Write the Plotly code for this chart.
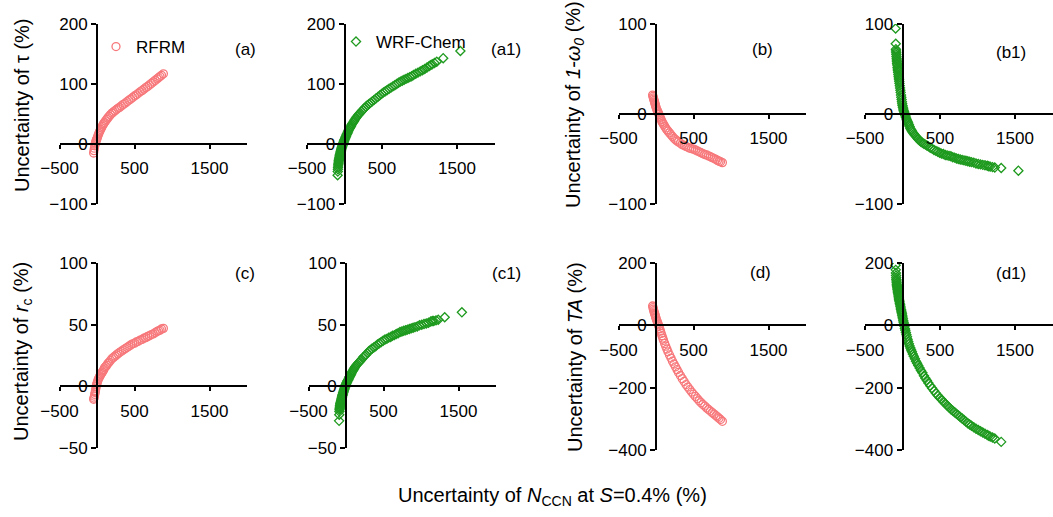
import plotly.graph_objects as go

# ---------------- data ----------------
rfrm_nccn = [-45, -40, -35, -30, -25, -20, -15, -10, -5, 0,
             8, 16, 24, 32, 40, 50, 60, 70, 80, 90,
             100, 115, 130, 145, 160, 180, 200, 220, 240, 260,
             280, 300, 325, 350, 375, 400, 425, 450, 475, 500,
             525, 550, 575, 600, 625, 650, 675, 700, 725, 750,
             775, 800, 820, 840, 860, 885]
rfrm_tau = [-15, -11, -7, -3, 0, 2, 4, 6, 7.5, 9,
            12, 15, 17.5, 20, 22, 24.5, 27, 29.5, 32, 34,
            36, 38.5, 41, 43.5, 46, 49, 51.5, 53.5, 55.5, 57.5,
            59.5, 61, 63.5, 66, 68, 70.5, 73, 75, 77.5, 80,
            82, 84.5, 87, 89, 91.5, 94, 96, 98.5, 101, 103.5,
            106, 108.5, 110.5, 112.5, 114.5, 117]
rfrm_omega = [21, 19.5, 18, 16.5, 15, 13.5, 12, 10.5, 9, 7.5,
              5.5, 4, 2.5, 1, -0.5, -2.5, -4.5, -6.5, -8.5, -10,
              -11.5, -13.5, -15.5, -17.5, -19, -21, -23, -25, -27, -28.5,
              -30, -31, -32.5, -34, -35, -36, -37, -38, -38.5, -39,
              -40, -41, -42, -43, -44, -45, -45.5, -46.5, -47.5, -48.5,
              -49.5, -50.5, -51.5, -52.5, -53, -54]
rfrm_rc = [-10.5, -9.5, -8, -6.5, -5, -3.5, -1.5, 0, 1.5, 2.5,
           4, 5.5, 6.5, 7.5, 8.5, 9.5, 10.5, 11.5, 12.5, 13.5,
           15, 16, 17, 18.5, 19.5, 21, 22.5, 23.5, 24.5, 25.5,
           26.5, 27.5, 28.5, 29.5, 30.5, 31.5, 32.5, 33.5, 34.5, 35,
           36, 36.5, 37.5, 38, 39, 39.5, 40.5, 41, 42, 42.5,
           43.5, 44.5, 45, 45.5, 46.5, 47]
rfrm_ta = [62, 57, 52, 47.5, 43, 39, 35.5, 31.5, 27, 23,
           17, 12, 7, 1.5, -4, -11, -18.5, -26, -33.5, -41,
           -48, -58, -67, -76, -85, -95, -105, -115, -124, -133,
           -142, -151, -161, -171, -180, -190, -198, -206, -214, -221,
           -228, -235, -242, -248, -254, -259, -265, -270, -275, -280,
           -285, -290, -294, -298, -302, -308]

wrf_nccn = [-92, -90, -88, -86, -84, -82, -80, -78, -76, -74,
            -72, -70, -67, -64, -61, -58, -55, -52, -49, -46,
            -43, -40, -36, -32, -28, -24, -20, -16, -12, -8,
            -4, 0, 5, 10, 15, 20, 26, 32, 38, 45,
            52, 60, 68, 76, 85, 95, 105, 115, 125, 137,
            150, 165, 180, 195, 210, 228, 246, 265, 285, 305,
            325, 345, 370, 395, 420, 445, 470, 495, 520, 545,
            570, 595, 620, 645, 670, 695, 720, 745, 770, 795,
            820, 845, 870, 895, 920, 950, 980, 1010, 1040, 1070,
            1100, 1130, 1150, 1170, 1200, 1230, 1316, 1545]
wrf_tau = [-52, -46, -42, -39, -36.5, -34, -32, -30, -28, -26.5,
           -25, -23.5, -21.5, -19.5, -18, -16.5, -15, -13.5, -12, -10.5,
           -9, -7.5, -6, -4.5, -3, -1.5, 0, 1.5, 3, 4.5,
           6, 7, 8.5, 10, 11.5, 13, 15, 16.5, 18, 20,
           22, 24, 26, 27.5, 29.5, 32, 34, 36, 38, 40.5,
           43, 45.5, 48, 50, 52, 54.5, 57, 59.5, 62, 64.5,
           66.5, 68.5, 71, 73.5, 76, 78.5, 81, 83.5, 86, 88,
           90, 92, 94, 96, 98, 100, 102, 104, 105.5, 107,
           108.5, 110, 111.5, 113, 115, 117, 119, 121, 123, 125,
           127.5, 130, 131.5, 133, 135, 137, 143, 155]
wrf_omega = [95, 78, 72, 70, 68, 66, 64, 62, 60, 58,
             56, 54.5, 52, 50, 48, 46, 44, 42, 40, 38,
             36, 34, 31.5, 29, 26.5, 24, 21, 18.5, 16, 13.5,
             11.5, 9.5, 7.5, 5.5, 4, 2.5, 1, -0.5, -2, -3.5,
             -5.5, -7, -8.5, -10, -12, -14, -16, -17.5, -19, -20.5,
             -22, -23.5, -25, -26.5, -28, -29.5, -31, -32, -33, -34,
             -35, -36, -37.5, -38.5, -40, -41, -42, -43, -44, -44.5,
             -45.5, -46, -46.5, -47, -48, -48.5, -49.5, -50, -50.5, -51,
             -51.5, -52, -52.5, -53, -53.5, -54, -55, -55.5, -56, -56.5,
             -57, -57.5, -58, -58.5, -59, -59.5, -60, -63]
wrf_rc = [-28, -23, -20.5, -19, -18, -17, -16, -15.5, -14.5, -14,
          -13.5, -13, -12, -11.5, -10.5, -10, -9, -8.5, -7.5, -7,
          -6.5, -5.5, -5, -4, -3.5, -2.5, -2, -1, -0.5, 0.5,
          1, 1.5, 2.5, 3, 3.5, 4.5, 5, 5.5, 6.5, 7.5,
          8, 9, 10, 11, 12, 13, 14, 15, 16, 17,
          18, 19, 20, 21, 22, 23.5, 24.5, 25.5, 27, 28.5,
          29.5, 30.5, 31.5, 32.5, 34, 35, 36, 37, 38, 38.5,
          39.5, 40, 41, 41.5, 42.5, 43, 44, 44.5, 45, 45.5,
          46, 46.5, 47, 47.5, 48, 48.5, 49.5, 50, 50.5, 51,
          51.5, 52.5, 53, 53, 53.5, 54, 56, 60]
wrf_ta = [193, 178, 168, 160, 153, 147, 142, 137, 132, 128,
          124, 120, 115, 110, 106, 101, 97, 92, 88, 84,
          80, 76, 71, 66, 61, 56, 51, 46, 42, 37,
          32, 27, 21, 15, 10, 4, -3, -10, -16, -23,
          -30, -37, -45, -52, -59, -66, -73, -79, -85, -92,
          -99, -107, -115, -122, -129, -137, -145, -152, -162, -170,
          -177, -185, -194, -202, -210, -218, -225, -232, -238, -245,
          -251, -257, -263, -269, -274, -279, -284, -289, -294, -299,
          -304, -309, -314, -318, -322, -327, -332, -336, -340, -344,
          -348, -352, -354, -357, -360, -363, -374, None]

x_range = [-500, 2000]
x_ticks = [-500, 500, 1500]
y_titles = ["Uncertainty of τ (%)", "Uncertainty of <i>1-ω<sub>0</sub></i> (%)",
            "Uncertainty of <i>r</i><sub>c</sub> (%)", "Uncertainty of <i>TA</i> (%)"]
x_title = "Uncertainty of <i>N</i><sub>CCN</sub> at <i>S</i>=0.4% (%)"

# ---------------- styling / layout ----------------
W, H = 1053, 517
FONT = "Liberation Sans, Arial, sans-serif"
RED = "#F7787B"
GREEN = "#1E9A1E"


def fx(px):
    return px / W


def fy(py):
    return 1 - py / H


# panel: label, x data, y data, model, y range, y dtick, zero-x pixel, top px, bottom px
panels = [
    ("(a)", rfrm_nccn, rfrm_tau, "RFRM", [-100, 200], 100, 97, 24, 204),
    ("(a1)", wrf_nccn, wrf_tau, "WRF-Chem", [-100, 200], 100, 344.5, 24, 204),
    ("(b)", rfrm_nccn, rfrm_omega, "RFRM", [-100, 100], 100, 656, 24, 204),
    ("(b1)", wrf_nccn, wrf_omega, "WRF-Chem", [-100, 100], 100, 902.5, 24, 204),
    ("(c)", rfrm_nccn, rfrm_rc, "RFRM", [-50, 100], 50, 97, 263, 448),
    ("(c1)", wrf_nccn, wrf_rc, "WRF-Chem", [-50, 100], 50, 346, 263, 448),
    ("(d)", rfrm_nccn, rfrm_ta, "RFRM", [-400, 200], 200, 656, 263, 450),
    ("(d1)", wrf_nccn, wrf_ta, "WRF-Chem", [-400, 200], 200, 902.5, 263, 450),
]
label_pos = [(258, 50), (523, 50), (775, 50), (1028, 52),
             (257, 273), (523, 273), (773, 272), (1028, 273)]

fig = go.Figure()
layout = dict(
    template="none",
    width=W, height=H, margin=dict(l=0, r=0, t=0, b=0, autoexpand=False),
    paper_bgcolor="white", plot_bgcolor="rgba(0,0,0,0)",
    font=dict(family=FONT, size=17, color="black"),
    annotations=[],
)

XPX_PER_UNIT = 187.5 / 2500.0

for i, (lab, xs, ys, model, yr, dt, x0, ytop, ybot) in enumerate(panels):
    n = i + 1
    xa = "xaxis" if n == 1 else f"xaxis{n}"
    ya = "yaxis" if n == 1 else f"yaxis{n}"
    xr = "x" if n == 1 else f"x{n}"
    yrf = "y" if n == 1 else f"y{n}"
    left = x0 - 500 * XPX_PER_UNIT
    right = x0 + 2000 * XPX_PER_UNIT
    zero_py = ytop + yr[1] / (yr[1] - yr[0]) * (ybot - ytop)
    layout[xa] = dict(
        domain=[fx(left), fx(right)], range=x_range, anchor="free",
        position=fy(zero_py), tickvals=x_ticks, showline=True,
        linecolor="black", linewidth=2, ticks="outside", ticklen=4,
        tickwidth=2, tickcolor="black", showgrid=False, zeroline=False,
        automargin=False, ticklabelstandoff=5,
        tickfont=dict(size=17, family=FONT, color="black"),
    )
    layout[ya] = dict(
        domain=[fy(ybot), fy(ytop)], range=yr, anchor="free",
        position=fx(x0), dtick=dt, tick0=0, showline=True,
        linecolor="black", linewidth=2, ticks="outside", ticklen=5,
        tickwidth=2, tickcolor="black", showgrid=False, zeroline=False,
        automargin=False, tickfont=dict(size=17, family=FONT, color="black"),
    )
    if model == "RFRM":
        marker = dict(symbol="circle-open", size=8, color=RED,
                      line=dict(width=1.3, color=RED))
    else:
        marker = dict(symbol="diamond-open", size=7, color=GREEN,
                      line=dict(width=1.3, color=GREEN))
    show = (n == 1 or n == 2)
    fig.add_trace(go.Scatter(
        x=xs, y=ys, mode="markers", name=model, marker=marker,
        xaxis=xr, yaxis=yrf, showlegend=show,
        legend="legend" if n == 1 else "legend2",
        cliponaxis=True,
    ))
    lx, ly = label_pos[i]
    layout["annotations"].append(dict(
        text=lab, x=fx(lx), y=fy(ly), xref="paper", yref="paper",
        xanchor="right", yanchor="middle", showarrow=False,
        font=dict(size=17, family=FONT, color="black"),
    ))

# y titles
for txt, px, py in [(y_titles[0], 22, 105), (y_titles[1], 575, 105),
                    (y_titles[2], 22, 352), (y_titles[3], 575, 357)]:
    layout["annotations"].append(dict(
        text=txt, x=fx(px), y=fy(py), xref="paper", yref="paper",
        xanchor="center", yanchor="middle", textangle=-90, showarrow=False,
        font=dict(size=20, family=FONT, color="black"),
    ))

layout["annotations"].append(dict(
    text=x_title, x=fx(552), y=fy(496), xref="paper", yref="paper",
    xanchor="center", yanchor="middle", showarrow=False,
    font=dict(size=20, family=FONT, color="black"),
))

layout["legend"] = dict(x=fx(96), y=fy(47), xanchor="left", yanchor="middle",
                        bgcolor="rgba(0,0,0,0)", borderwidth=0,
                        font=dict(size=17, family=FONT, color="black"), itemwidth=30)
layout["legend2"] = dict(x=fx(336), y=fy(42), xanchor="left", yanchor="middle",
                         bgcolor="rgba(0,0,0,0)", borderwidth=0,
                         font=dict(size=17, family=FONT, color="black"), itemwidth=30)

fig.update_layout(**layout)
fig.write_html("out.html")
